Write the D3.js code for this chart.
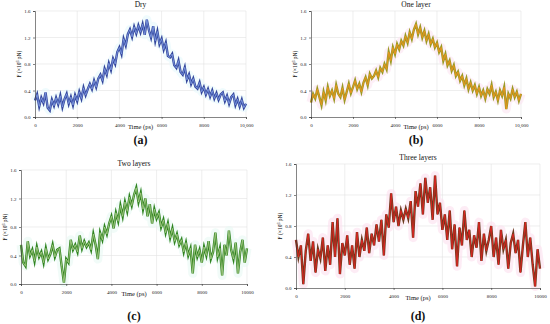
<!DOCTYPE html>
<html>
<head>
<meta charset="utf-8">
<script src="https://cdn.jsdelivr.net/npm/d3@7"></script>
<style>
  body { margin: 0; background: #fff; }
  text { font-family: "Liberation Serif", "DejaVu Serif", serif; }
</style>
</head>
<body>
<svg id="fig" width="550" height="324"></svg>
<script>
// time axis: one sample every 100 ps, 0..10000
const timeStep = 100
const yTicks = [0.0, 0.4, 0.8, 1.2, 1.6]
const xTicks = [0, 2000, 4000, 6000, 8000, 10000]
const titles = ['Dry', 'One layer', 'Two layers', 'Three layers']
const letters = ['(a)', '(b)', '(c)', '(d)']

const dry = [0.25, 0.34, 0.16, 0.29, 0.21, 0.37, 0.14, 0.10, 0.26, 0.17,
  0.29, 0.19, 0.32, 0.15, 0.27, 0.35, 0.20, 0.30, 0.18, 0.33,
  0.24, 0.38, 0.28, 0.44, 0.33, 0.42, 0.50, 0.42, 0.55, 0.45,
  0.58, 0.64, 0.55, 0.73, 0.64, 0.81, 0.71, 0.88, 0.80, 0.98,
  1.05, 0.95, 1.18, 1.08, 1.25, 1.32, 1.21, 1.36, 1.26, 1.38,
  1.28, 1.40, 1.24, 1.47, 1.31, 1.20, 1.37, 1.15, 1.29, 1.10,
  1.18, 1.02, 1.12, 0.92, 0.90, 0.95, 0.78, 0.74, 0.85, 0.68,
  0.64, 0.75, 0.56, 0.64, 0.50, 0.58, 0.46, 0.43, 0.52, 0.38,
  0.45, 0.34, 0.42, 0.31, 0.40, 0.28, 0.36, 0.26, 0.34, 0.37,
  0.24, 0.32, 0.20, 0.30, 0.34, 0.18, 0.27, 0.16, 0.26, 0.14,
  0.20]

const oneLayer = [0.22, 0.35, 0.28, 0.42, 0.30, 0.18, 0.38, 0.25, 0.45, 0.32,
  0.40, 0.28, 0.48, 0.35, 0.30, 0.44, 0.26, 0.38, 0.50, 0.36,
  0.45, 0.55, 0.42, 0.50, 0.38, 0.52, 0.60, 0.48, 0.65, 0.58,
  0.62, 0.70, 0.60, 0.74, 0.68, 0.80, 0.72, 0.98, 0.85, 1.05,
  0.95, 1.10, 1.02, 1.15, 1.08, 1.22, 1.12, 1.28, 1.18, 1.32,
  1.40, 1.25, 1.35, 1.20, 1.30, 1.15, 1.25, 1.10, 1.18, 1.05,
  1.12, 0.98, 1.05, 0.85, 0.95, 0.78, 0.85, 0.70, 0.78, 0.62,
  0.68, 0.55, 0.62, 0.48, 0.58, 0.42, 0.52, 0.40, 0.48, 0.35,
  0.45, 0.32, 0.40, 0.28, 0.42, 0.35, 0.48, 0.30, 0.38, 0.25,
  0.40, 0.32, 0.45, 0.12, 0.35, 0.28, 0.42, 0.30, 0.38, 0.25,
  0.35]

const twoLayers = [0.55, 0.30, 0.25, 0.60, 0.40, 0.48, 0.32, 0.52, 0.38, 0.45,
  0.30, 0.50, 0.35, 0.42, 0.55, 0.38, 0.48, 0.50, 0.25, 0.02,
  0.35, 0.30, 0.62, 0.48, 0.55, 0.45, 0.68, 0.50, 0.60, 0.52,
  0.58, 0.48, 0.70, 0.55, 0.35, 0.72, 0.62, 0.80, 0.70, 0.85,
  0.95, 0.78, 1.00, 0.88, 1.10, 0.95, 1.15, 1.02, 1.22, 1.10,
  1.25, 1.35, 1.15, 1.28, 1.05, 1.20, 0.95, 1.12, 0.85, 1.05,
  0.92, 1.00, 0.80, 0.90, 0.72, 0.85, 0.65, 0.78, 0.60, 0.70,
  0.55, 0.62, 0.45, 0.58, 0.40, 0.50, 0.15, 0.55, 0.38, 0.48,
  0.30, 0.52, 0.40, 0.60, 0.35, 0.45, 0.72, 0.38, 0.50, 0.12,
  0.55, 0.40, 0.75, 0.48, 0.35, 0.58, 0.15, 0.45, 0.62, 0.30,
  0.50]

const threeLayers = [0.62, 0.40, 0.55, 0.05, 0.48, 0.70, 0.35, 0.60, 0.20, 0.50,
  0.38, 0.65, 0.22, 0.55, 0.30, 0.85, 0.40, 0.90, 0.18, 0.58,
  0.42, 0.68, 0.30, 0.55, 0.25, 0.72, 0.40, 0.62, 0.48, 0.78,
  0.45, 0.70, 0.55, 0.82, 0.60, 0.88, 0.42, 0.95, 0.78, 1.22,
  0.85, 1.05, 0.80, 1.00, 0.88, 1.02, 0.90, 1.12, 0.65, 1.25,
  1.05, 1.35, 0.95, 1.42, 1.10, 1.30, 0.88, 1.45, 0.95, 1.10,
  0.75, 0.95, 0.62, 1.00, 0.50, 0.82, 0.28, 0.78, 0.55, 1.00,
  0.62, 0.75, 0.40, 0.68, 0.52, 0.85, 0.35, 0.70, 0.48, 0.62,
  0.80, 0.40, 0.65, 0.30, 0.75, 0.50, 0.62, 0.25, 0.58, 0.70,
  0.45, 0.62, 0.20, 0.55, 0.85, 0.40, 0.65, 0.30, 0.02, 0.50,
  0.25]

const svg = d3.select('#fig')

function panel(opt){
  const g = svg.append('g')
  const x = d3.scaleLinear().domain([0, 10000]).range([opt.x0, opt.x1])
  const y = d3.scaleLinear().domain([0, 1.6]).range([opt.yb, opt.yt])

  // grid
  g.selectAll('.gx').data(xTicks.slice(1)).enter().append('line')
    .attr('x1', d => x(d)).attr('x2', d => x(d))
    .attr('y1', opt.yt).attr('y2', opt.yb)
    .attr('stroke', '#e2e2e2').attr('stroke-width', 0.6)
  g.selectAll('.gy').data(yTicks.slice(1)).enter().append('line')
    .attr('x1', opt.x0).attr('x2', opt.x1)
    .attr('y1', d => y(d)).attr('y2', d => y(d))
    .attr('stroke', '#e2e2e2').attr('stroke-width', 0.6)

  const pts = opt.data.map((v, i) => [i * timeStep, v])
  const line = d3.line().x(d => x(d[0])).y(d => y(d[1]))

  // faint halo, dark edge, light core
  g.append('path').attr('d', line(pts)).attr('fill', 'none')
    .attr('stroke', opt.halo).attr('stroke-width', 9).attr('stroke-linejoin', 'round')
    .attr('opacity', 0.6)
  g.append('path').attr('d', line(pts)).attr('fill', 'none')
    .attr('stroke', opt.edge).attr('stroke-width', 2.4).attr('stroke-linejoin', 'miter')
    .attr('stroke-miterlimit', 6)
  g.append('path').attr('d', line(pts)).attr('fill', 'none')
    .attr('stroke', opt.core).attr('stroke-width', 0.9).attr('stroke-linejoin', 'miter')

  // axes
  const ax = g.append('g').attr('transform', `translate(0,${opt.yb})`)
    .call(d3.axisBottom(x).tickValues(xTicks).tickSize(2).tickFormat(opt.xfmt))
  const ay = g.append('g').attr('transform', `translate(${opt.x0},0)`)
    .call(d3.axisLeft(y).tickValues(yTicks).tickSize(2).tickFormat(d3.format('.1f')))
  ;[ax, ay].forEach(a => {
    a.selectAll('path, line').attr('stroke', '#333').attr('stroke-width', 0.6)
    a.selectAll('text').style('font-family', '"Liberation Serif", serif')
      .attr('font-size', 5).attr('fill', '#222')
  })
  ax.selectAll('text').attr('dy', '0.9em')
  ay.selectAll('text').attr('dx', '0.1em')

  const cx = (opt.x0 + opt.x1) / 2
  g.append('text').attr('x', cx).attr('y', opt.yt - 4).attr('text-anchor', 'middle')
    .attr('font-size', 7.5).attr('fill', '#111').text(opt.title)
  g.append('text').attr('x', cx).attr('y', opt.yb + 12).attr('text-anchor', 'middle')
    .attr('font-size', 6.5).attr('fill', '#111').text('Time (ps)')
  g.append('text').attr('transform', `translate(${opt.x0 - 14},${(opt.yt + opt.yb) / 2}) rotate(-90)`)
    .attr('text-anchor', 'middle').attr('font-size', 5.5).attr('fill', '#111')
    .html('F (×10<tspan baseline-shift="super" font-size="4">6</tspan> pN)')
  g.append('text').attr('x', cx).attr('y', opt.ly).attr('text-anchor', 'middle')
    .attr('font-size', 12).attr('font-weight', 'bold').attr('fill', '#111').text(opt.letter)
}

const comma = d3.format(',')
panel({x0: 35, x1: 246, yt: 11, yb: 117, data: dry, title: titles[0], letter: letters[0], ly: 144,
  xfmt: d => d === 10000 ? comma(d) : d, halo: '#e6f8fc', edge: '#34469c', core: '#7c98e0'})
panel({x0: 311, x1: 521, yt: 11, yb: 117, data: oneLayer, title: titles[1], letter: letters[1], ly: 144,
  xfmt: d => d === 10000 ? comma(d) : d, halo: '#fce4f2', edge: '#9a9b25', core: '#f2921e'})
panel({x0: 21, x1: 247, yt: 170, yb: 284, data: twoLayers, title: titles[2], letter: letters[2], ly: 320,
  xfmt: d => d, halo: '#e8f9f3', edge: '#2f8420', core: '#a6c886'})
panel({x0: 296, x1: 540, yt: 164, yb: 288, data: threeLayers, title: titles[3], letter: letters[3], ly: 320,
  xfmt: d => d, halo: '#fce0ef', edge: '#6a3a1c', core: '#e42222'})
</script>
</body>
</html>
